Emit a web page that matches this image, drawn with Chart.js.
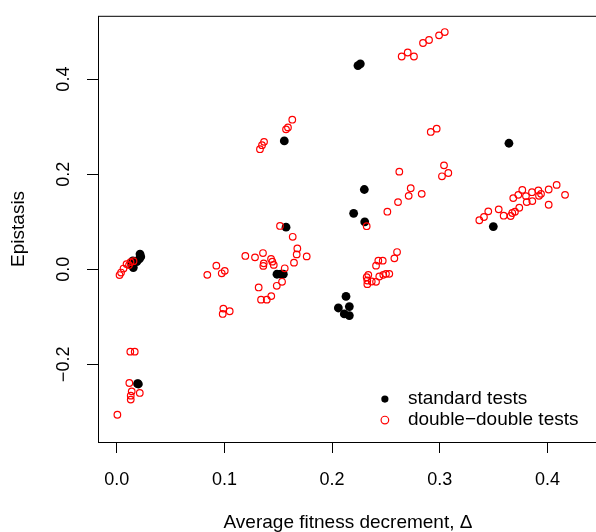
<!DOCTYPE html>
<html lang="en">
<head>
  <meta charset="UTF-8">
  <title>Epistasis vs average fitness decrement</title>
  <script src="https://cdn.jsdelivr.net/npm/chart.js"></script>
  <style>
    body {
      margin: 0;
      padding: 0;
      background: #fff;
      overflow: hidden;
    }
    /* wider than the window: the right side of the frame runs off the picture */
    .plot-wrap {
      width: 640px;
      height: 532px;
    }
  </style>
</head>
<body>

<div class="plot-wrap">
  <canvas id="epiChart" width="640" height="532"></canvas>
</div>

<script>
  // standard tests (black dots)
  var stdX = [0.0216, 0.0223, 0.0210, 0.0186, 0.0149, 0.0154, 0.0139, 0.0193, 0.0201,
              0.1488, 0.1523, 0.1547, 0.1556, 0.1572, 0.2058, 0.2113, 0.2129, 0.2160,
              0.2160, 0.2200, 0.2299, 0.2303, 0.2240, 0.2262, 0.3497, 0.3642];
  var stdY = [0.0321, 0.0265, 0.0217, 0.0161, 0.0175, 0.0035, 0.0092, -0.2407, -0.2413,
              -0.0104, -0.0104, -0.0104, 0.2701, 0.0885, -0.0814, -0.0939, -0.0570, -0.0785,
              -0.0973, 0.1177, 0.1678, 0.0996, 0.4284, 0.4322, 0.0898, 0.2651];

  // double-double tests (red circles)
  var ddX = [0.0026, 0.0040, 0.0063, 0.0091, 0.0114, 0.0128, 0.0156,
             0.0126, 0.0167,
             0.0117, 0.0139, 0.0130, 0.0130, 0.0214, 0.0006,
             0.0841, 0.0925, 0.0975, 0.1003, 0.0990, 0.0984, 0.1049,
             0.1516, 0.1634, 0.1677, 0.1671, 0.1764, 0.1646, 0.1560, 0.1194, 0.1284,
             0.1358, 0.1365, 0.1361, 0.1433, 0.1445, 0.1458, 0.1535, 0.1486, 0.1318,
             0.1340, 0.1393, 0.1435,
             0.1630, 0.1590, 0.1572, 0.1368, 0.1349, 0.1330,
             0.2321, 0.2603, 0.2578, 0.2470, 0.2429, 0.2408, 0.2336, 0.2321, 0.2327,
             0.2368, 0.2408, 0.2438, 0.2475, 0.2500, 0.2531, 0.2327,
             0.2646, 0.2702, 0.2760, 0.2844, 0.2900, 0.2993, 0.3046,
             0.2916, 0.2971, 0.2624, 0.3039, 0.3079, 0.3020, 0.2730, 0.2711, 0.2832,
             0.2612, 0.2513,
             0.3367, 0.3410, 0.3450, 0.3547, 0.3593, 0.3658, 0.3673, 0.3698, 0.3738,
             0.3682, 0.3729, 0.3766, 0.3800, 0.3807, 0.3856, 0.3859, 0.3915, 0.3921,
             0.3940, 0.4011, 0.4011, 0.4085, 0.4163];
  var ddY = [-0.0121, -0.0069, 0.0015, 0.0109, 0.0088, 0.0150, 0.0171,
             -0.1733, -0.1733,
             -0.2392, -0.2568, -0.2658, -0.2741, -0.2601, -0.3060,
             -0.0117, 0.0077, -0.0084, -0.0033, -0.0827, -0.0939, -0.0883,
             0.0912, 0.0683, 0.0438, 0.0313, 0.0271, 0.0140, 0.0021, 0.0280, 0.0251,
             0.0342, 0.0125, 0.0071, 0.0217, 0.0161, 0.0092, -0.0263, -0.0347, -0.0382,
             -0.0639, -0.0639, -0.0564,
             0.3146, 0.2985, 0.2944, 0.2681, 0.2610, 0.2526,
             0.0906, 0.0363, 0.0230, 0.0182, 0.0182, 0.0077, -0.0117, -0.0167, -0.0313,
             -0.0257, -0.0263, -0.0152, -0.0117, -0.0096, -0.0096, -0.0236,
             0.4476, 0.4560, 0.4476, 0.4760, 0.4823, 0.4921, 0.4990,
             0.2889, 0.2958, 0.2054, 0.2186, 0.2025, 0.1956, 0.1706, 0.1545, 0.1587,
             0.1413, 0.1211,
             0.1031, 0.1100, 0.1219, 0.1261, 0.1127, 0.1121, 0.1184, 0.1211, 0.1294,
             0.1497, 0.1566, 0.1670, 0.1539, 0.1413, 0.1622, 0.1434, 0.1658, 0.1545,
             0.1587, 0.1678, 0.1357, 0.1775, 0.1566];

  var xTicks = [0, 0.1, 0.2, 0.3, 0.4];
  var xTickLabels = ['0.0', '0.1', '0.2', '0.3', '0.4'];
  var yTicks = [-0.2, 0, 0.2, 0.4];
  var yTickLabels = ['\u22120.2', '0.0', '0.2', '0.4'];
  var legendLabels = ['standard tests', 'double\u2212double tests'];

  var FONT = "'Liberation Sans', Arial, sans-serif";

  function toPoints(xs, ys) {
    return xs.map(function(x, i) { return { x: x, y: ys[i] }; });
  }

  // only the R-style tick positions, no extra ticks at min/max
  function fixTicks(values) {
    return function(scale) {
      scale.ticks = values.map(function(v) { return { value: v }; });
    };
  }

  function labelFor(values, labels) {
    return function(value) {
      for (var i = 0; i < values.length; i++) {
        if (Math.abs(values[i] - value) < 1e-9) return labels[i];
      }
      return '';
    };
  }

  // frame around the plotting region, like R's box()
  var framePlugin = {
    id: 'frame',
    afterDraw: function(chart) {
      var a = chart.chartArea, ctx = chart.ctx;
      ctx.save();
      ctx.strokeStyle = '#000';
      ctx.lineWidth = 1;
      ctx.strokeRect(a.left + 0.5, a.top + 0.5, a.right - a.left, a.bottom - a.top);
      ctx.restore();
    }
  };

  // legend sitting inside the bottom right of the plot
  var insideLegend = {
    id: 'insideLegend',
    afterDraw: function(chart) {
      var ctx = chart.ctx;
      var xs = chart.scales.x, ys = chart.scales.y;
      var symX = xs.getPixelForValue(0.249);
      var textX = symX + 23;
      var row1 = ys.getPixelForValue(-0.273);
      var row2 = row1 + 21;
      ctx.save();
      ctx.fillStyle = '#000';
      ctx.beginPath();
      ctx.arc(symX, row1, 3.6, 0, Math.PI * 2);
      ctx.fill();
      ctx.strokeStyle = '#ff0000';
      ctx.lineWidth = 1.2;
      ctx.beginPath();
      ctx.arc(symX, row2, 3.8, 0, Math.PI * 2);
      ctx.stroke();
      ctx.font = '19px ' + FONT;
      ctx.textBaseline = 'middle';
      ctx.textAlign = 'left';
      ctx.fillStyle = '#000';
      ctx.fillText(legendLabels[0], textX, row1);
      ctx.fillText(legendLabels[1], textX, row2);
      ctx.restore();
    }
  };

  document.addEventListener('DOMContentLoaded', function() {
    var ctx = document.getElementById('epiChart').getContext('2d');
    new Chart(ctx, {
      type: 'scatter',
      data: {
        datasets: [{
          label: legendLabels[1],
          data: toPoints(ddX, ddY),
          pointStyle: 'circle',
          pointRadius: 3.3,
          pointBorderWidth: 1.2,
          borderColor: '#ff0000',
          backgroundColor: 'rgba(0,0,0,0)'
        }, {
          label: legendLabels[0],
          data: toPoints(stdX, stdY),
          pointStyle: 'circle',
          pointRadius: 4.4,
          pointBorderWidth: 0,
          borderColor: '#000',
          backgroundColor: '#000'
        }]
      },
      options: {
        responsive: false,
        animation: false,
        layout: { padding: { top: 12, right: 42, left: 0, bottom: 0 } },
        plugins: {
          legend: { display: false },
          tooltip: { enabled: false }
        },
        scales: {
          x: {
            type: 'linear',
            position: 'bottom',
            min: -0.0174,
            max: 0.4469,
            afterBuildTicks: fixTicks(xTicks),
            afterFit: function(scale) { scale.height = 90; },
            grid: {
              drawOnChartArea: false,
              tickLength: 11,
              tickColor: '#000'
            },
            border: { display: false },
            ticks: {
              color: '#000',
              padding: 16,
              maxRotation: 0,
              autoSkip: false,
              callback: labelFor(xTicks, xTickLabels),
              font: { family: FONT, size: 18 }
            },
            title: {
              display: true,
              text: 'Average fitness decrement, \u0394',
              color: '#000',
              padding: { top: 0, bottom: 0 },
              font: { family: FONT, size: 19, lineHeight: 1 }
            }
          },
          y: {
            type: 'linear',
            min: -0.3633,
            max: 0.5332,
            afterBuildTicks: fixTicks(yTicks),
            afterFit: function(scale) { scale.width = 98; },
            grid: {
              drawOnChartArea: false,
              tickLength: 11,
              tickColor: '#000'
            },
            border: { display: false },
            ticks: {
              color: '#000',
              padding: 5,
              minRotation: 90,
              maxRotation: 90,
              crossAlign: 'center',
              autoSkip: false,
              callback: labelFor(yTicks, yTickLabels),
              font: { family: FONT, size: 18 }
            },
            title: {
              display: true,
              text: 'Epistasis',
              color: '#000',
              padding: { top: 7, bottom: 0 },
              font: { family: FONT, size: 19 }
            }
          }
        }
      },
      plugins: [framePlugin, insideLegend]
    });
  });
</script>

</body>
</html>
